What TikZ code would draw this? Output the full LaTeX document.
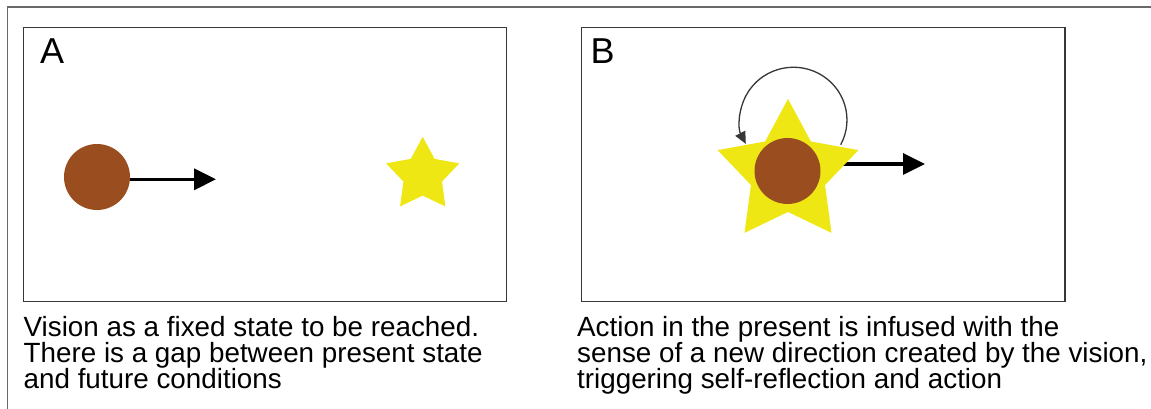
\documentclass[tikz,border=0pt]{standalone}
\usepackage{fontspec}
\setmainfont{Liberation Sans}
\usetikzlibrary{shapes.geometric,arrows.meta}
\definecolor{brownfill}{RGB}{154,78,31}
\definecolor{staryellow}{RGB}{239,231,20}
\definecolor{framegray}{RGB}{105,105,105}
\definecolor{panelline}{RGB}{55,55,55}
\begin{document}
\begin{tikzpicture}[x=1pt,y=1pt,
  panelbox/.style={draw=panelline,line width=1.3pt,inner sep=0pt,anchor=north west},
  outerline/.style={draw=framegray,line width=1.6pt},
  disc/.style={circle,fill=brownfill,minimum size=66pt,inner sep=0pt},
  starshape/.style={star,star points=5,star point ratio=1.9,fill=staryellow,inner sep=0pt},
  arrowline/.style={line width=3.5pt,-{Triangle[length=22pt,width=21pt]}},
  loopline/.style={draw=panelline,line width=1.3pt,-{Triangle[length=12pt,width=11pt]}},
  letter/.style={font=\fontsize{36}{36}\selectfont,anchor=base west,inner sep=0pt},
  captxt/.style={font=\fontsize{27.8}{26}\selectfont,anchor=base west,inner sep=0pt}]
\useasboundingbox (0,0) rectangle (1151,409);
\fill[white] (0,0) rectangle (1151,409);
\draw[outerline] (7.3,0) -- (7.3,401.7) -- (1151,401.7);

% Panel A
\node[panelbox,minimum width=483.3pt,minimum height=274pt] (pA) at (22.7,382.3) {};
\node[letter] (lA) at (40,345.7) {A};
\node[disc] (cA) at (97,232) {};
\coordinate (tA) at (216,229.7);
\draw[arrowline] (cA.east |- tA) -- (tA);
\node[starshape,minimum size=77pt] (sA) at (422.7,233.7) {};

% Panel B
\node[panelbox,minimum width=483.6pt,minimum height=274pt] (pB) at (580.7,382.3) {};
\node[letter] (lB) at (590.5,345.7) {B};
\coordinate (oB) at (788,245);
\coordinate (tB) at (925,245);
\draw[arrowline] (oB) -- (tB);
\node[starshape,minimum size=148pt] (sB) at (788,236) {};
\node[disc] (cB) at (787.5,238) {};
\coordinate (loopS) at (840.7,264.3);
\draw[loopline] (loopS) arc[start angle=-28,end angle=207,x radius=53.5,y radius=52.7];

% Captions
\node[captxt] (capA1) at (23.5,72) {Vision as a fixed state to be reached.};
\node[captxt] (capA2) at (23.5,46) {There is a gap between present state};
\node[captxt] (capA3) at (23.5,20) {and future conditions};
\node[captxt] (capB1) at (577,72) {Action in the present is infused with the};
\node[captxt] (capB2) at (577,46) {sense of a new direction created by the vision,};
\node[captxt] (capB3) at (577,20) {triggering self-reflection and action};
\end{tikzpicture}
\end{document}
